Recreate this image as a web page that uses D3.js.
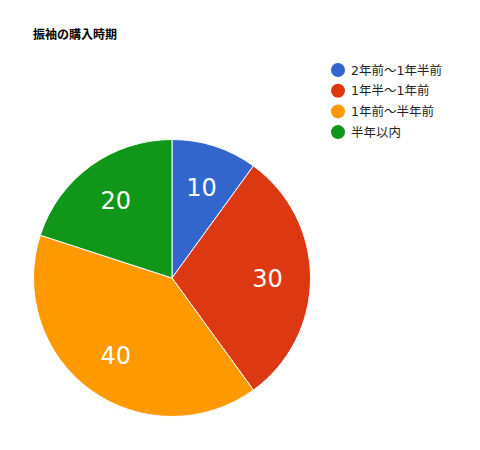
<!DOCTYPE html>
<html>
<head>
<meta charset="utf-8">
<script src="https://cdn.jsdelivr.net/npm/d3@7"></script>
<style>
  body { margin: 0; background: #fff; }
  text { font-family: "DejaVu Sans", "Noto Sans CJK JP", sans-serif; }
</style>
</head>
<body>
<svg id="svg" width="480" height="450"></svg>
<script>
// data
const title = '振袖の購入時期';
const categories = ['2年前〜1年半前', '1年半〜1年前', '1年前〜半年前', '半年以内'];
const values = [10, 30, 40, 20];
const colors = ['#3366cc', '#dc3912', '#ff9900', '#109618'];

const svg = d3.select('#svg');
const cx = 172, cy = 278, radius = 138.5;

svg.append('text')
  .attr('x', 33).attr('y', 39)
  .attr('font-size', 12).attr('font-weight', 'bold')
  .attr('fill', '#000')
  .text(title);

const pie = d3.pie().sort(null).value(d => d)(values);
const arc = d3.arc().innerRadius(0).outerRadius(radius);
const labelArc = d3.arc().innerRadius(radius * 0.69).outerRadius(radius * 0.69);

const g = svg.append('g').attr('transform', `translate(${cx},${cy})`);

g.selectAll('path').data(pie).enter()
  .append('path')
  .attr('d', arc)
  .attr('fill', (d, i) => colors[i])
  .attr('stroke', '#fff')
  .attr('stroke-width', 1);

g.selectAll('text.lbl').data(pie).enter()
  .append('text')
  .attr('class', 'lbl')
  .attr('transform', d => `translate(${labelArc.centroid(d)})`)
  .attr('text-anchor', 'middle')
  .attr('dy', '0.36em')
  .attr('font-size', 24)
  .attr('fill', '#fff')
  .text(d => d.data);

// legend
const legend = svg.append('g').attr('transform', 'translate(338,70)');
const items = legend.selectAll('g').data(categories).enter()
  .append('g')
  .attr('transform', (d, i) => `translate(0,${i * 20.7})`);
items.append('circle').attr('r', 7).attr('fill', (d, i) => colors[i]);
items.append('text')
  .attr('x', 13).attr('dy', '0.36em')
  .attr('font-size', 12.5)
  .attr('fill', '#222')
  .text(d => d);
</script>
</body>
</html>
